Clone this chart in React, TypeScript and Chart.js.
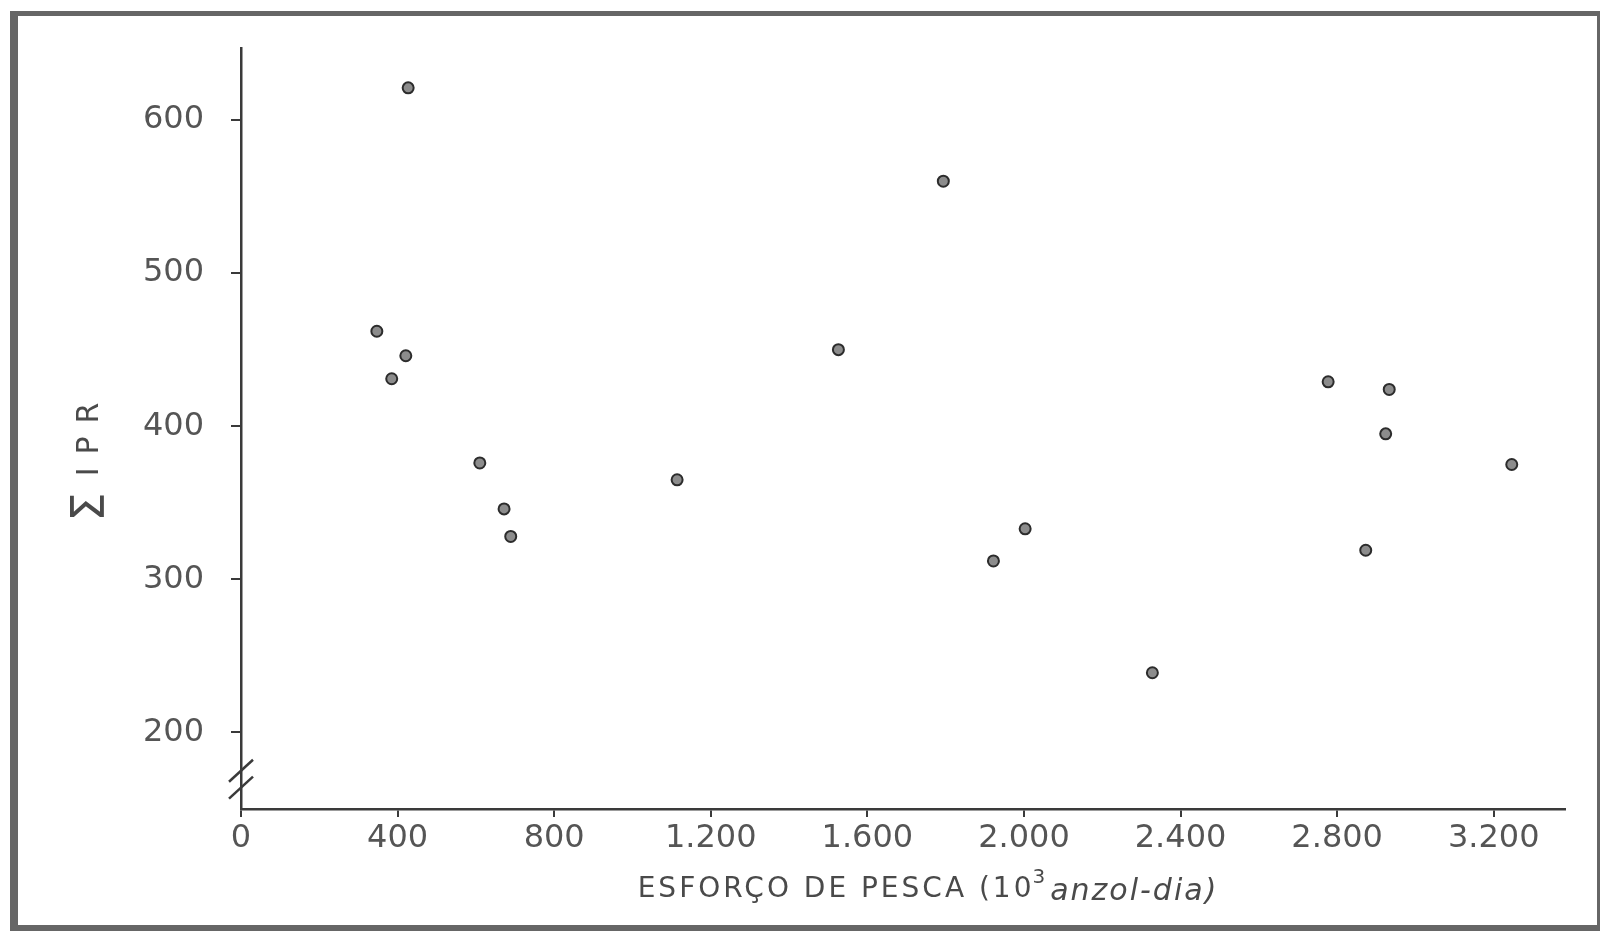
import { useEffect, useRef } from "react";
import { Chart, registerables } from "chart.js";

Chart.register(...registerables);

// Fishing effort (10^3 hook-days) and Σ IPR for each observation
const effort = [427, 347, 421, 385, 610, 672, 689, 1114, 1526, 1794, 1922, 2003, 2328, 2777, 2933, 2924, 2873, 3246];
const sumIPR = [621, 462, 446, 431, 376, 346, 328, 365, 450, 560, 312, 333, 239, 429, 424, 395, 319, 375];

const xTickValues = [0, 400, 800, 1200, 1600, 2000, 2400, 2800, 3200];
const yTickValues = [200, 300, 400, 500, 600];
const breakValues = [175, 164];

const xTitleParts = ["ESFORÇO DE PESCA (10", "3", "anzol-dia)"];
const yTitleParts = ["Σ", "IPR"];

const fmtTick = (v: number) =>
  v >= 1000 ? `${Math.floor(v / 1000)}.${String(v % 1000).padStart(3, "0")}` : String(v);

const INK = "#3a3a3a";
const TEXT = "#555555";
const FONT = '"DejaVu Sans", sans-serif';

const decorPlugin = {
  id: "decor",
  afterDraw(chart: any) {
    const { ctx, scales, chartArea } = chart;
    const x = scales.x;
    const y = scales.y;
    const ax = x.getPixelForValue(0);
    ctx.save();
    // axis break marks
    ctx.strokeStyle = INK;
    ctx.lineWidth = 2.5;
    for (const v of breakValues) {
      const py = y.getPixelForValue(v);
      ctx.beginPath();
      ctx.moveTo(ax - 12, py + 11);
      ctx.lineTo(ax + 12, py - 11);
      ctx.stroke();
    }
    ctx.fillStyle = "#4a4a4a";
    ctx.textBaseline = "middle";
    ctx.textAlign = "left";
    // x title
    const f1 = `28px ${FONT}`;
    const f2 = `20px ${FONT}`;
    const f3 = `italic 30px ${FONT}`;
    (ctx as any).letterSpacing = "3px";
    ctx.font = f1;
    const w1 = ctx.measureText(xTitleParts[0]).width;
    ctx.font = f2;
    const w2 = ctx.measureText(xTitleParts[1]).width;
    ctx.font = f3;
    (ctx as any).letterSpacing = "2px";
    const w3 = ctx.measureText(xTitleParts[2]).width;
    const cx = (chartArea.left + chartArea.right) / 2 + 25;
    const ty = chartArea.bottom + 81;
    let tx = cx - (w1 + w2 + w3) / 2;
    (ctx as any).letterSpacing = "3px";
    ctx.font = f1;
    ctx.fillText(xTitleParts[0], tx, ty);
    tx += w1;
    ctx.font = f2;
    ctx.fillText(xTitleParts[1], tx - 2, ty - 12);
    tx += w2;
    ctx.font = f3;
    (ctx as any).letterSpacing = "2px";
    ctx.fillText(xTitleParts[2], tx, ty + 2);

    // y title (rotated)
    ctx.translate(chartArea.left - 151, (chartArea.top + chartArea.bottom) / 2 + 27);
    ctx.rotate(-Math.PI / 2);
    (ctx as any).letterSpacing = "0px";
    ctx.font = `46px ${FONT}`;
    const s1 = ctx.measureText(yTitleParts[0]).width;
    ctx.font = `30px ${FONT}`;
    (ctx as any).letterSpacing = "13px";
    const s2 = ctx.measureText(yTitleParts[1]).width;
    let sx = -(s1 + 16 + s2) / 2;
    (ctx as any).letterSpacing = "0px";
    ctx.font = `46px ${FONT}`;
    ctx.fillText(yTitleParts[0], sx, 2);
    sx += s1 + 16;
    ctx.font = `30px ${FONT}`;
    (ctx as any).letterSpacing = "13px";
    ctx.fillText(yTitleParts[1], sx, 0);
    ctx.restore();
  },
};

export default function App() {
  const canvasRef = useRef<HTMLCanvasElement | null>(null);

  useEffect(() => {
    document.body.style.margin = "0";
    document.body.style.background = "#ffffff";
    const canvas = canvasRef.current;
    if (!canvas) return;
    const points = effort.map((e, i) => ({ x: e, y: sumIPR[i] }));
    const chart = new Chart(canvas, {
      type: "scatter",
      data: {
        datasets: [
          {
            data: points,
            pointRadius: 5.5,
            pointHoverRadius: 5.5,
            backgroundColor: "#8c8c8c",
            borderColor: "#2c2c2c",
            borderWidth: 2,
          },
        ],
      },
      options: {
        animation: false,
        responsive: false,
        devicePixelRatio: 1,
        layout: { padding: { left: 0, top: 48, right: 39, bottom: 0 } },
        plugins: { legend: { display: false }, tooltip: { enabled: false } },
        scales: {
          x: {
            type: "linear",
            min: 0,
            max: 3382,
            afterBuildTicks: (s: any) => {
              s.ticks = xTickValues.map((v) => ({ value: v }));
            },
            afterFit: (s: any) => {
              s.height = 134;
            },
            border: { display: true, color: INK, width: 2.5 },
            grid: { display: true, drawOnChartArea: false, drawTicks: true, tickLength: 8, color: INK, lineWidth: 2 },
            ticks: {
              font: { family: FONT, size: 32 },
              color: TEXT,
              padding: 2,
              maxRotation: 0,
              autoSkip: false,
              callback: (v: any) => fmtTick(Number(v)),
            },
          },
          y: {
            type: "linear",
            min: 150,
            max: 647,
            afterBuildTicks: (s: any) => {
              s.ticks = yTickValues.map((v) => ({ value: v }));
            },
            afterFit: (s: any) => {
              s.width = 241;
            },
            border: { display: true, color: INK, width: 2.5 },
            grid: { display: true, drawOnChartArea: false, drawTicks: true, tickLength: 10, color: INK, lineWidth: 2 },
            ticks: {
              font: { family: FONT, size: 32 },
              color: TEXT,
              padding: 27,
              autoSkip: false,
              callback: (v: any) => fmtTick(Number(v)),
            },
          },
        },
      },
      plugins: [decorPlugin],
    } as any);
    return () => chart.destroy();
  }, []);

  return (
    <div style={{ position: "relative", width: 1604, height: 943, overflow: "hidden", background: "#fff" }}>
      <div
        style={{
          position: "absolute",
          left: 10,
          top: 11,
          width: 1590,
          height: 920,
          boxSizing: "border-box",
          borderStyle: "solid",
          borderColor: "#666666",
          borderWidth: "5px 3px 6px 8px",
        }}
      />
      <canvas
        ref={canvasRef}
        width={1604}
        height={943}
        style={{ position: "absolute", left: 0, top: 0, display: "block" }}
      />
    </div>
  );
}
